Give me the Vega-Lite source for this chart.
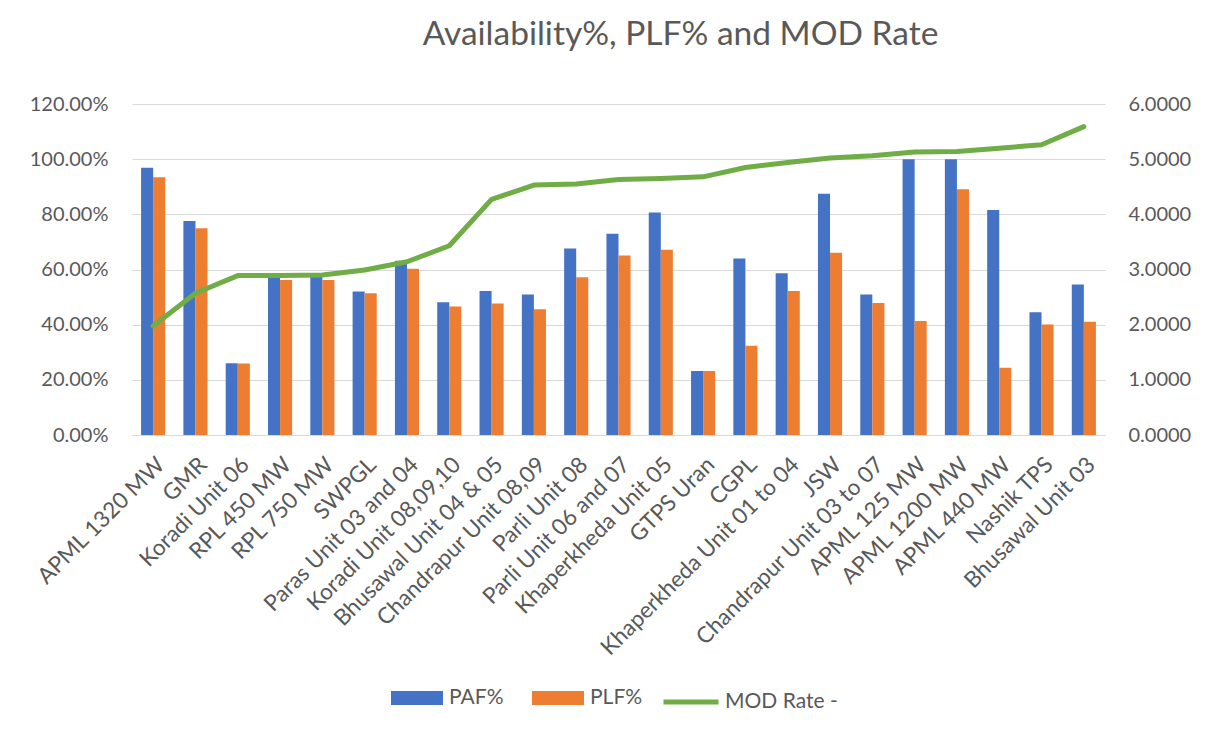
{
  "$schema": "https://vega.github.io/schema/vega-lite/v6.json",
  "autosize": "none",
  "width": 973,
  "height": 331,
  "padding": {"left": 132, "top": 104, "right": 108, "bottom": 298},
  "background": "white",
  "title": {
    "text": "Availability%, PLF% and MOD Rate",
    "font": "Lato",
    "fontSize": 33.5,
    "fontWeight": "normal",
    "color": "#595959",
    "anchor": "middle",
    "dx": 62,
    "offset": 42
  },
  "config": {
    "view": {"stroke": null},
    "font": "Lato",
    "axis": {"labelFont": "Lato", "labelColor": "#595959", "labelFontSize": 20, "ticks": false, "domain": false, "title": null},
    "legend": {"labelFont": "Lato", "labelColor": "#595959", "labelFontSize": 21, "title": null}
  },
  "data": {
    "values": [
      {"unit": "APML 1320 MW", "PAF%": 0.969, "PLF%": 0.934, "MOD": 1.976},
      {"unit": "GMR", "PAF%": 0.776, "PLF%": 0.750, "MOD": 2.57},
      {"unit": "Koradi Unit 06", "PAF%": 0.260, "PLF%": 0.259, "MOD": 2.89},
      {"unit": "RPL 450 MW", "PAF%": 0.587, "PLF%": 0.562, "MOD": 2.89},
      {"unit": "RPL 750 MW", "PAF%": 0.587, "PLF%": 0.562, "MOD": 2.90},
      {"unit": "SWPGL", "PAF%": 0.520, "PLF%": 0.514, "MOD": 2.99},
      {"unit": "Paras Unit 03 and 04", "PAF%": 0.632, "PLF%": 0.603, "MOD": 3.14},
      {"unit": "Koradi Unit 08,09,10", "PAF%": 0.481, "PLF%": 0.466, "MOD": 3.43},
      {"unit": "Bhusawal Unit 04 & 05", "PAF%": 0.522, "PLF%": 0.477, "MOD": 4.27},
      {"unit": "Chandrapur Unit 08,09", "PAF%": 0.509, "PLF%": 0.456, "MOD": 4.53},
      {"unit": "Parli Unit 08", "PAF%": 0.676, "PLF%": 0.572, "MOD": 4.55},
      {"unit": "Parli Unit 06 and 07", "PAF%": 0.730, "PLF%": 0.651, "MOD": 4.63},
      {"unit": "Khaperkheda Unit 05", "PAF%": 0.807, "PLF%": 0.672, "MOD": 4.65},
      {"unit": "GTPS Uran", "PAF%": 0.232, "PLF%": 0.232, "MOD": 4.68},
      {"unit": "CGPL", "PAF%": 0.640, "PLF%": 0.324, "MOD": 4.85},
      {"unit": "Khaperkheda Unit 01 to 04", "PAF%": 0.586, "PLF%": 0.522, "MOD": 4.94},
      {"unit": "JSW", "PAF%": 0.875, "PLF%": 0.661, "MOD": 5.02},
      {"unit": "Chandrapur Unit 03 to 07", "PAF%": 0.509, "PLF%": 0.479, "MOD": 5.06},
      {"unit": "APML 125 MW", "PAF%": 1.000, "PLF%": 0.413, "MOD": 5.13},
      {"unit": "APML 1200 MW", "PAF%": 1.000, "PLF%": 0.891, "MOD": 5.14},
      {"unit": "APML 440 MW", "PAF%": 0.816, "PLF%": 0.244, "MOD": 5.20},
      {"unit": "Nashik TPS", "PAF%": 0.445, "PLF%": 0.401, "MOD": 5.26},
      {"unit": "Bhusawal Unit 03", "PAF%": 0.546, "PLF%": 0.411, "MOD": 5.59}
    ]
  },
  "encoding": {
    "x": {
      "field": "unit",
      "type": "nominal",
      "sort": null,
      "scale": {"paddingInner": 0.43, "paddingOuter": 0.215},
      "axis": {
        "labelAngle": -45,
        "labelAlign": "right",
        "labelBaseline": "top",
        "labelPadding": 18,
        "domain": true,
        "domainColor": "#D9D9D9",
        "domainWidth": 1,
        "labelFontSize": 22.5,
        "labelLimit": 400,
        "grid": false
      }
    }
  },
  "layer": [
    {
      "transform": [{"fold": ["PAF%", "PLF%"], "as": ["series", "value"]}],
      "mark": {"type": "bar"},
      "encoding": {
        "xOffset": {"field": "series", "type": "nominal", "scale": {"paddingInner": 0, "paddingOuter": 0}},
        "y": {
          "field": "value",
          "type": "quantitative",
          "scale": {"domain": [0, 1.2], "nice": false},
          "axis": {
            "values": [0, 0.2, 0.4, 0.6, 0.8, 1.0, 1.2],
            "format": ".2%",
            "grid": true,
            "gridColor": "#D9D9D9",
            "gridWidth": 1,
            "labelPadding": 24,
            "orient": "left"
          }
        },
        "color": {
          "field": "series",
          "type": "nominal",
          "scale": {"domain": ["PAF%", "PLF%"], "range": ["#4472C4", "#ED7D31"]},
          "legend": {
            "orient": "none",
            "direction": "horizontal",
            "legendX": 259,
            "legendY": 568,
            "symbolType": "M-1,-0.27H1V0.27H-1Z",
            "symbolSize": 2704,
            "symbolStrokeWidth": 0,
            "labelOffset": 6,
            "columnPadding": 28
          }
        }
      }
    },
    {
      "mark": {"type": "line", "strokeWidth": 5, "strokeCap": "round", "strokeJoin": "round"},
      "encoding": {
        "y": {
          "field": "MOD",
          "type": "quantitative",
          "scale": {"domain": [0, 6], "nice": false},
          "axis": {
            "orient": "right",
            "values": [0, 1, 2, 3, 4, 5, 6],
            "format": ".4f",
            "grid": false,
            "labelPadding": 23
          }
        },
        "stroke": {
          "datum": "MOD Rate -",
          "type": "nominal",
          "scale": {"domain": ["MOD Rate -"], "range": ["#70AD47"]},
          "legend": {
            "orient": "none",
            "legendX": 529,
            "legendY": 568,
            "symbolType": "stroke",
            "symbolSize": 3025,
            "symbolStrokeWidth": 5,
            "labelOffset": 4
          }
        }
      }
    }
  ],
  "resolve": {"scale": {"y": "independent", "color": "independent"}}
}
